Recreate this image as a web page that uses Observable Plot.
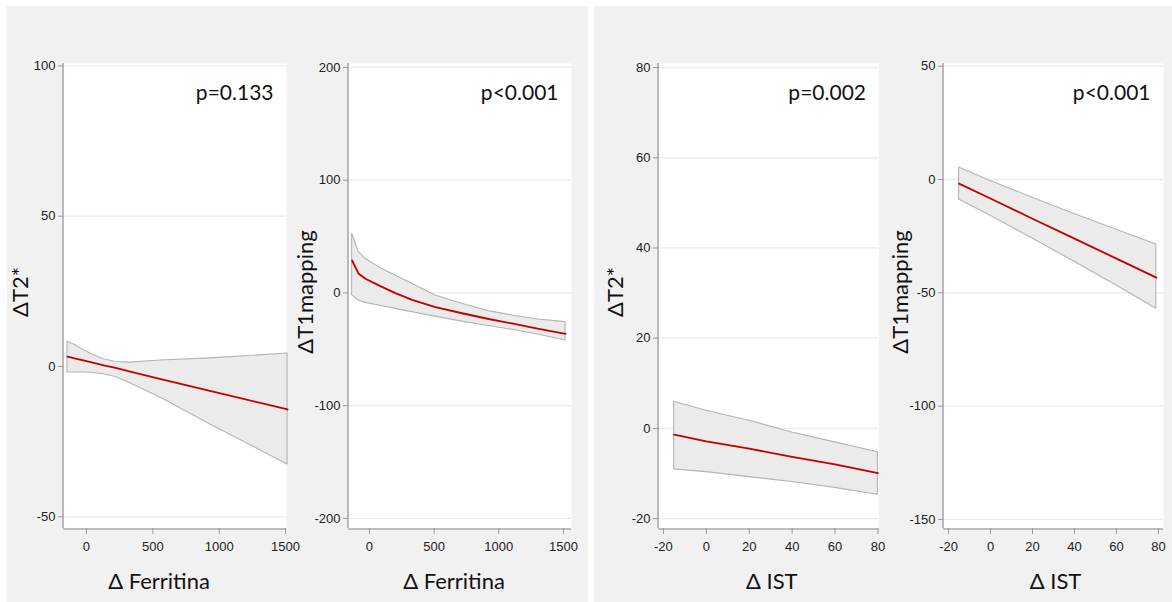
<!DOCTYPE html>
<html>
<head>
<meta charset="utf-8">
<script src="https://cdn.jsdelivr.net/npm/d3@7"></script>
<script src="https://cdn.jsdelivr.net/npm/@observablehq/plot@0.6"></script>
<style>
  html, body { margin: 0; padding: 0; background: #ffffff; }
  #root { position: relative; width: 1172px; height: 602px; overflow: hidden; background: #ffffff; }
  .group { position: absolute; background: #f1f1f1; }
  .panel { position: absolute; top: 0; }
  .panel svg { display: block; background: transparent; overflow: visible !important; }
</style>
</head>
<body>
<div id="root">
  <div class="group" style="left:7px; top:6px; width:581px; height:596px;"></div>
  <div class="group" style="left:594px; top:6px; width:578px; height:596px;"></div>
</div>
<script>
// ---------- Panel 1: ΔT2* vs Δ Ferritina ----------
const p1X   = [-143, -90, -40, 40, 130, 220, 330, 560, 930, 1515];
const p1Fit = [3.3, 2.7, 2.2, 1.4, 0.4, -0.5, -1.7, -4.2, -8.1, -14.3];
const p1Lo  = [-2.0, -2.0, -2.0, -2.1, -2.6, -3.5, -5.6, -10.4, -19.2, -32.6];
const p1Hi  = [8.3, 7.2, 5.9, 4.1, 2.4, 1.5, 1.3, 2.0, 2.7, 4.3];
const p1YTicks = [-50, 0, 50, 100];
const p1XTicks = [0, 500, 1000, 1500];

// ---------- Panel 2: ΔT1mapping vs Δ Ferritina ----------
const p2X   = [-134, -83, -31, 72, 200, 330, 510, 716, 922, 1128, 1309, 1516];
const p2Fit = [28.8, 17.0, 12.6, 6.7, -0.2, -6.1, -12.5, -18.0, -23.1, -27.6, -31.8, -36.2];
const p2Lo  = [-2.2, -6.7, -8.8, -11.1, -14.1, -17.0, -21.0, -25.4, -29.3, -33.1, -37.1, -42.1];
const p2Hi  = [52.5, 36.2, 30.3, 22.9, 15.5, 8.1, -2.2, -9.6, -16.1, -20.5, -23.5, -25.9];
const p2YTicks = [-200, -100, 0, 100, 200];
const p2XTicks = [0, 500, 1000, 1500];

// ---------- Panel 3: ΔT2* vs Δ IST ----------
const p3X   = [-15, 0, 20, 40, 60, 80];
const p3Fit = [-1.4, -2.9, -4.5, -6.3, -8.0, -9.9];
const p3Lo  = [-9.1, -9.7, -10.8, -11.9, -13.2, -14.7];
const p3Hi  = [5.9, 3.9, 1.7, -0.9, -3.1, -5.3];
const p3YTicks = [-20, 0, 20, 40, 60, 80];
const p3XTicks = [-20, 0, 20, 40, 60, 80];

// ---------- Panel 4: ΔT1mapping vs Δ IST ----------
const p4X   = [-15, 0, 20, 40, 60, 79];
const p4Fit = [-1.8, -8.4, -17.3, -26.1, -34.9, -43.3];
const p4Lo  = [-8.8, -16.0, -26.0, -36.3, -46.8, -57.0];
const p4Hi  = [5.3, -0.6, -8.0, -15.2, -22.2, -28.7];
const p4YTicks = [-150, -100, -50, 0, 50];
const p4XTicks = [-20, 0, 20, 40, 60, 80];

// ---------- Texts ----------
const yTitles = ["ΔT2*", "ΔT1mapping", "ΔT2*", "ΔT1mapping"];
const xTitles = ["Δ Ferritina", "Δ Ferritina", "Δ IST", "Δ IST"];
const pLabels = ["p=0.133", "p<0.001", "p=0.002", "p<0.001"];

const rows = (xs, fit, lo, hi) => xs.map((x, i) => ({x, fit: fit[i], lo: lo[i], hi: hi[i]}));
const plain = d => String(d);

const panels = [
  {left: 7,   width: 283, ml: 56, mr: 4,   xDom: [-173, 1507],  yDom: [-53.9, 100.8], data: rows(p1X, p1Fit, p1Lo, p1Hi), yt: p1YTicks, xt: p1XTicks, xdx: -16},
  {left: 290, width: 298, ml: 58, mr: 17,  xDom: [-162, 1562],  yDom: [-208.9, 203.5], data: rows(p2X, p2Fit, p2Lo, p2Hi), yt: p2YTicks, xt: p2XTicks, xdx: -6},
  {left: 594, width: 290, ml: 64, mr: 5.5, xDom: [-22.3, 80.5], yDom: [-22.2, 80.9], data: rows(p3X, p3Fit, p3Lo, p3Hi), yt: p3YTicks, xt: p3XTicks, xdx: 3},
  {left: 884, width: 288, ml: 59, mr: 9,   xDom: [-22.4, 82.4], yDom: [-154, 51.2],   data: rows(p4X, p4Fit, p4Lo, p4Hi), yt: p4YTicks, xt: p4XTicks, xdx: 2}
];

const titleFont = "Lato, 'Open Sans', sans-serif";
const root = document.getElementById("root");

panels.forEach((p, i) => {
  const chart = Plot.plot({
    width: p.width,
    height: 602,
    marginTop: 63,
    marginBottom: 74,
    marginLeft: p.ml,
    marginRight: p.mr,
    style: {background: "transparent", fontFamily: "'Liberation Sans', Arial, sans-serif", color: "#222", overflow: "visible"},
    x: {domain: p.xDom},
    y: {domain: p.yDom},
    marks: [
      Plot.frame({fill: "white", stroke: "none"}),
      Plot.gridY(p.yt, {stroke: "#ebebeb", strokeOpacity: 1, strokeWidth: 1.3}),
      Plot.areaY(p.data, {x: "x", y1: "lo", y2: "hi", fill: "#ebebeb", stroke: "#b4b4b4", strokeWidth: 1.1}),
      Plot.lineY(p.data, {x: "x", y: "fit", stroke: "#c00000", strokeWidth: 1.8}),
      Plot.ruleX([p.xDom[0]], {stroke: "#aaaaaa", strokeWidth: 1.6, dx: -0.5}),
      Plot.ruleY([p.yDom[0]], {stroke: "#aaaaaa", strokeWidth: 1.6, dy: 0.5}),
      Plot.axisY(p.yt, {tickSize: 5, tickPadding: 3, fontSize: 13, stroke: "#999", fill: "#222", label: null, tickFormat: plain}),
      Plot.axisX(p.xt, {tickSize: 6, tickPadding: 7, fontSize: 13, stroke: "#999", fill: "#222", label: null, tickFormat: plain}),
      Plot.text([yTitles[i]], {text: d => d, frameAnchor: "left", rotate: -90, dx: -43, dy: -4, fontSize: 22, fontFamily: titleFont, fill: "#111", lineAnchor: "middle", textAnchor: "middle"}),
      Plot.text([xTitles[i]], {text: d => d, frameAnchor: "bottom", dx: p.xdx, dy: 53, fontSize: 22, fontFamily: titleFont, fill: "#111", lineAnchor: "middle", textAnchor: "middle"}),
      Plot.text([pLabels[i]], {text: d => d, frameAnchor: "top-right", dx: -13, dy: 30, fontSize: 21, fontFamily: titleFont, fill: "#111", lineAnchor: "middle", textAnchor: "end"})
    ]
  });
  const wrap = document.createElement("div");
  wrap.className = "panel";
  wrap.style.left = p.left + "px";
  wrap.appendChild(chart);
  root.appendChild(wrap);
});
</script>
</body>
</html>
